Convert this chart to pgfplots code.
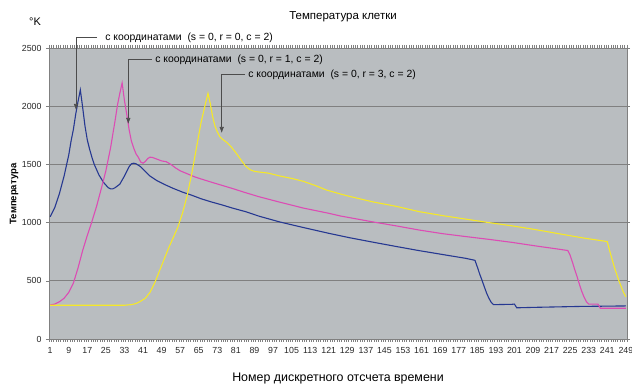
\documentclass[border=0pt]{standalone}
\usepackage{fontspec}
\setmainfont{Liberation Sans}
\usepackage{pgfplots}
\pgfplotsset{compat=1.18}
\usetikzlibrary{arrows.meta}
\definecolor{bggray}{RGB}{185,189,192}
\definecolor{gridgray}{RGB}{128,128,128}
\definecolor{cblue}{RGB}{38,56,145}
\definecolor{cmag}{RGB}{220,76,180}
\definecolor{cyel}{RGB}{245,232,40}
\begin{document}
\begin{tikzpicture}
\useasboundingbox (0pt,0pt) rectangle (632pt,387pt);
\begin{axis}[
  at={(49pt,48pt)}, anchor=south west,
  scale only axis, width=578pt, height=291pt,
  xmin=0.5, xmax=249.5, ymin=0, ymax=2500,
  ytick={0,500,...,2500},
  xtick={0.5,1.5,...,249.5}, xticklabels={},
  extra x ticks={1,9,...,249},
  extra x tick style={major tick length=0pt},
  major tick length=3pt,
  tick align=outside,
  ymajorgrids,
  grid style={draw=gridgray, line width=0.7pt},
  axis background/.style={fill=bggray},
  axis line style={draw=gridgray, line width=0.8pt},
  tick style={draw=gridgray, line width=0.5pt},
  every tick label/.style={font=\fontsize{8.8}{10}\selectfont, text=black!85},
  /pgf/number format/assume math mode=true,
  /pgf/number format/set thousands separator={},
  yticklabel style={xshift=-1pt},
  xticklabel style={yshift=-5pt},
  clip=true,
]
\addplot[cblue, line width=1.1pt] coordinates {
(1,1050)(3,1130)(5,1250)(7,1400)(9,1580)(10,1700)(11,1800)(12,1930)(13,2040)(14,2140)
(15,1990)(16,1830)(17,1710)(18,1630)(19,1560)(20,1500)(22,1410)(24,1345)(26,1300)
(27,1290)(28,1290)(29,1300)(31,1330)(33,1400)(35,1480)(36,1505)(37,1510)(38,1505)
(40,1480)(42,1440)(44,1400)(47,1360)(50,1330)(54,1294)(58,1262)(62,1235)(66,1205)
(70,1180)(75,1152)(80,1122)(85,1095)(91,1055)(100,1005)(110,958)(121,908)(130,870)
(140,832)(150,795)(160,759)(170,726)(180,693)(184,676)(185,620)(186,560)(187,507)
(188,450)(189,395)(190,350)(191,315)(192,295)(200,298)(201,300)(202,268)(210,272)
(220,276)(230,280)(240,282)(249,284)
};
\addplot[cmag, line width=1.1pt] coordinates {
(1,292)(3,300)(5,320)(7,350)(9,400)(11,480)(13,610)(15,760)(17,890)(19,1010)
(21,1140)(23,1290)(25,1445)(27,1640)(29,1880)(30,2010)(31,2110)(32,2200)(33,2050)
(34,1930)(35,1800)(36,1700)(37,1640)(38,1590)(39,1560)(40,1520)(41,1510)(42,1525)
(43,1550)(44,1562)(45,1560)(47,1545)(49,1530)(51,1523)(53,1500)(55,1470)(57,1445)
(60,1420)(63,1395)(66,1375)(70,1350)(75,1320)(80,1290)(85,1258)(91,1222)(100,1175)
(110,1125)(121,1080)(126,1057)(140,1006)(150,972)(160,936)(170,905)(180,880)
(190,856)(200,830)(210,800)(220,772)(224,760)(225,720)(226,660)(227,595)(228,535)
(229,470)(230,410)(231,360)(232,320)(233,300)(236,300)(237,300)(238,264)(249,264)
};
\addplot[cyel, line width=1.1pt] coordinates {
(1,290)(33,290)(36,295)(38,305)(40,325)(42,350)(44,400)(46,480)(48,580)(50,680)
(52,780)(54,870)(56,960)(58,1080)(60,1230)(62,1420)(64,1640)(66,1860)(68,2030)
(69,2110)(70,2020)(71,1910)(72,1830)(73,1780)(74,1740)(75,1720)(77,1690)(79,1650)
(81,1600)(83,1545)(85,1490)(87,1455)(89,1440)(92,1432)(95,1425)(100,1400)(105,1380)
(110,1355)(115,1320)(120,1280)(126,1246)(130,1225)(140,1178)(150,1140)(160,1094)
(170,1060)(180,1030)(190,1000)(200,972)(210,940)(220,905)(230,870)(240,840)(241,836)
(242,760)(243,690)(244,620)(245,560)(246,500)(247,450)(248,400)(249,363)
};
\end{axis}
% titles and labels
\node[font=\fontsize{11.5}{13}\selectfont] at (343pt,370pt) {Температура клетки};
\node[font=\fontsize{11}{13}\selectfont] at (35pt,365pt) {°K};
\node[font=\bfseries\fontsize{9.5}{11}\selectfont, rotate=90] at (14pt,193pt) {Температура};
\node[font=\fontsize{12.4}{14}\selectfont] at (338pt,8pt) {Номер дискретного отсчета времени};
% annotations
\begin{scope}[line width=0.6pt, draw=black!70]
\draw[-{Latex[length=6pt,width=4.5pt]}] (97pt,349.5pt) -- (76pt,349.5pt) -- (76pt,277pt);
\node[anchor=west, inner sep=0pt, font=\fontsize{10.4}{12}\selectfont] at (105pt,349.5pt) {с координатами\ \ (s = 0, r = 0, c = 2)};
\draw[-{Latex[length=6pt,width=4.5pt]}] (151.7pt,327.5pt) -- (128.3pt,327.5pt) -- (128.3pt,263pt);
\node[anchor=west, inner sep=0pt, font=\fontsize{10.4}{12}\selectfont] at (155pt,327.5pt) {с координатами\ \ (s = 0, r = 1, c = 2)};
\draw[-{Latex[length=6pt,width=4.5pt]}] (245pt,312.5pt) -- (221.7pt,312.5pt) -- (221.7pt,254pt);
\node[anchor=west, inner sep=0pt, font=\fontsize{10.4}{12}\selectfont] at (248pt,312.5pt) {с координатами\ \ (s = 0, r = 3, c = 2)};
\end{scope}
\end{tikzpicture}
\end{document}
